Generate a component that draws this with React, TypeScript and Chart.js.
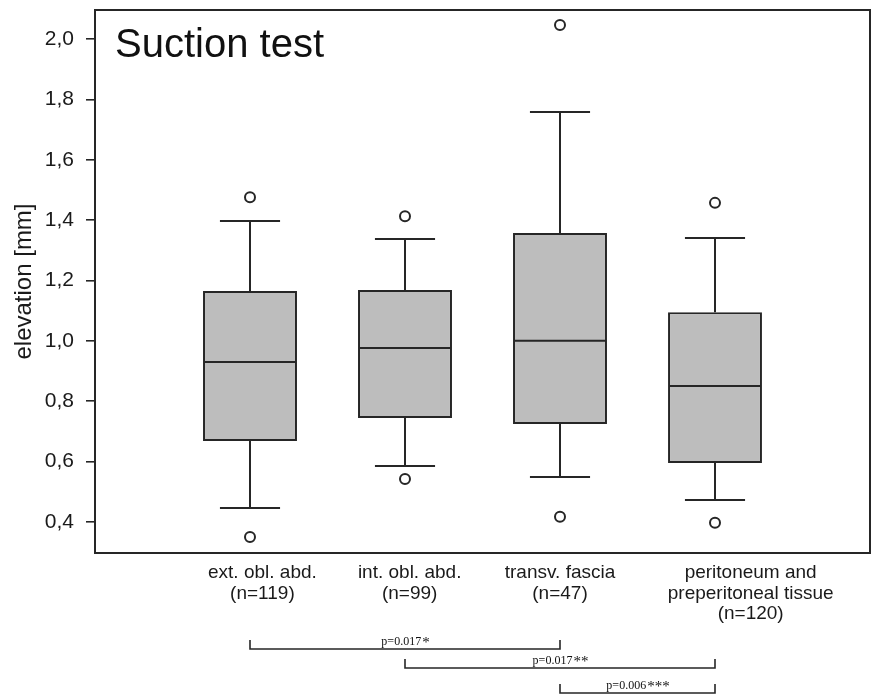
import React, { useEffect, useRef } from 'react';
import { Chart, registerables } from 'chart.js';

Chart.register(...registerables);

// ---- data ----
const categoryLines: string[][] = [
  ['ext. obl. abd.'],
  ['int. obl. abd.'],
  ['transv. fascia'],
  ['peritoneum and', 'preperitoneal tissue'],
];
const sampleSizes = [119, 99, 47, 120];
const boxPositions = [1, 2, 3, 4];
const whiskerLow = [0.446, 0.585, 0.549, 0.473];
const q1 = [0.668, 0.744, 0.724, 0.595];
const medians = [0.93, 0.976, 1.0, 0.85];
const q3 = [1.165, 1.168, 1.357, 1.095];
const whiskerHigh = [1.397, 1.337, 1.758, 1.341];
const outliers: number[][] = [
  [0.35, 1.476],
  [0.542, 1.413],
  [0.417, 2.046],
  [0.397, 1.457],
];
const yTicks = [0.4, 0.6, 0.8, 1.0, 1.2, 1.4, 1.6, 1.8, 2.0];
const labelPositions = [1.08, 2.03, 3.0, 4.23];
const comparisons: number[][] = [
  [0, 2],
  [1, 3],
  [2, 3],
];
const pValues = ['0.017', '0.017', '0.006'];
const pStars = ['*', '**', '***'];

// ---- styles ----
const LINE = '#262626';
const FILL = '#bdbdbd';
const SANS = '"Liberation Sans", Arial, Helvetica, sans-serif';
const SERIF = '"Liberation Serif", "Times New Roman", serif';

const framePlugin = {
  id: 'frame',
  beforeDatasetsDraw(chart: any) {
    const { ctx, chartArea } = chart;
    ctx.save();
    ctx.strokeStyle = LINE;
    ctx.lineWidth = 2;
    ctx.strokeRect(chartArea.left, chartArea.top, chartArea.right - chartArea.left, chartArea.bottom - chartArea.top);
    ctx.restore();
  },
};

const boxPlugin = {
  id: 'boxDetails',
  afterDatasetsDraw(chart: any) {
    const meta = chart.getDatasetMeta(0);
    const y = chart.scales.y;
    const ctx = chart.ctx;
    ctx.save();
    ctx.strokeStyle = LINE;
    ctx.lineWidth = 2;
    meta.data.forEach((bar: any, i: number) => {
      const { x, width } = bar.getProps(['x', 'width'], true);
      const half = width / 2 - 1;
      const cap = width * 0.32;
      const yMed = y.getPixelForValue(medians[i]);
      const yQ1 = y.getPixelForValue(q1[i]);
      const yQ3 = y.getPixelForValue(q3[i]);
      const yLo = y.getPixelForValue(whiskerLow[i]);
      const yHi = y.getPixelForValue(whiskerHigh[i]);
      ctx.beginPath();
      ctx.moveTo(x - half, yMed);
      ctx.lineTo(x + half, yMed);
      ctx.moveTo(x, yQ3);
      ctx.lineTo(x, yHi);
      ctx.moveTo(x - cap, yHi);
      ctx.lineTo(x + cap, yHi);
      ctx.moveTo(x, yQ1);
      ctx.lineTo(x, yLo);
      ctx.moveTo(x - cap, yLo);
      ctx.lineTo(x + cap, yLo);
      ctx.stroke();
    });
    ctx.restore();
  },
};

const annotationPlugin = {
  id: 'annotations',
  afterDraw(chart: any) {
    const { ctx, chartArea } = chart;
    const x = chart.scales.x;
    ctx.save();
    // title inside plot
    ctx.fillStyle = '#111';
    ctx.font = `40px ${SANS}`;
    ctx.textBaseline = 'alphabetic';
    ctx.textAlign = 'left';
    ctx.fillText('Suction test', chartArea.left + 20, chartArea.top + 47);

    // significance brackets
    const lineYs = [649, 668, 693];
    ctx.strokeStyle = LINE;
    ctx.lineWidth = 1.6;
    comparisons.forEach((pair, k) => {
      const xa = x.getPixelForValue(boxPositions[pair[0]]);
      const xb = x.getPixelForValue(boxPositions[pair[1]]);
      const ly = lineYs[k];
      ctx.beginPath();
      ctx.moveTo(xa, ly - 9);
      ctx.lineTo(xa, ly);
      ctx.lineTo(xb, ly);
      ctx.lineTo(xb, ly - 9);
      ctx.stroke();
      const txt = 'p=' + pValues[k];
      ctx.font = `12px ${SERIF}`;
      const w1 = ctx.measureText(txt).width;
      ctx.font = `15px ${SERIF}`;
      const w2 = ctx.measureText(pStars[k]).width;
      const start = (xa + xb) / 2 - (w1 + w2) / 2;
      ctx.font = `12px ${SERIF}`;
      ctx.fillStyle = '#111';
      ctx.fillText(txt, start, ly - 4);
      ctx.font = `15px ${SERIF}`;
      ctx.fillText(pStars[k], start + w1 + 1, ly - 2);
    });
    ctx.restore();
  },
};

const zeroSidePadding = (s: any) => {
  s.paddingLeft = 0;
  s.paddingRight = 0;
};

export default function App() {
  const canvasRef = useRef<HTMLCanvasElement | null>(null);

  useEffect(() => {
    if (!canvasRef.current) return;
    const chart = new Chart(canvasRef.current, {
      type: 'bar',
      data: {
        datasets: [
          {
            type: 'bar',
            data: boxPositions.map((p, i) => ({ x: p, y: [q1[i], q3[i]] })) as any,
            backgroundColor: FILL,
            borderColor: LINE,
            borderWidth: 2,
            borderSkipped: false,
            categoryPercentage: 1,
            barPercentage: 0.606,
            xAxisID: 'x',
            yAxisID: 'y',
          } as any,
          {
            type: 'scatter',
            data: outliers.flatMap((vals, i) => vals.map((v) => ({ x: boxPositions[i], y: v }))),
            pointStyle: 'circle',
            pointRadius: 5,
            backgroundColor: '#ffffff',
            borderColor: LINE,
            borderWidth: 2,
            clip: false,
            xAxisID: 'x',
            yAxisID: 'y',
          } as any,
        ],
      },
      options: {
        responsive: false,
        animation: false,
        layout: { autoPadding: false, padding: { top: 10, right: 2, left: 0, bottom: 0 } },
        plugins: {
          legend: { display: false },
          tooltip: { enabled: false },
          title: { display: false },
        },
        scales: {
          x: {
            type: 'linear',
            min: 0,
            max: 5,
            offset: false,
            display: false,
            ticks: { stepSize: 1 },
            afterFit: zeroSidePadding,
          },
          xl: {
            type: 'linear',
            position: 'bottom',
            min: 0,
            max: 5,
            offset: false,
            afterBuildTicks: (s: any) => {
              s.ticks = labelPositions.map((v) => ({ value: v }));
            },
            afterFit: (s: any) => {
              s.height = 141;
              zeroSidePadding(s);
            },
            grid: { display: false, drawTicks: false },
            border: { display: false },
            ticks: {
              autoSkip: false,
              maxRotation: 0,
              minRotation: 0,
              padding: 9,
              color: '#1a1a1a',
              font: { family: SANS, size: 19, lineHeight: 1.1 },
              callback: (_v: any, i: number) => [...categoryLines[i], `(n=${sampleSizes[i]})`],
            },
          },
          y: {
            type: 'linear',
            min: 0.297,
            max: 2.096,
            afterBuildTicks: (s: any) => {
              s.ticks = yTicks.map((v) => ({ value: v }));
            },
            afterFit: (s: any) => {
              s.width = 95;
              s.paddingTop = 0;
              s.paddingBottom = 0;
            },
            grid: {
              drawOnChartArea: false,
              drawTicks: true,
              tickLength: 9,
              color: LINE,
              tickColor: LINE,
              lineWidth: 1.6,
            },
            border: { display: false },
            ticks: {
              padding: 12,
              color: '#1a1a1a',
              font: { family: SANS, size: 21 },
              callback: (v: any) => Number(v).toFixed(1).replace('.', ','),
            },
            title: {
              display: true,
              text: 'elevation [mm]',
              color: '#1a1a1a',
              font: { family: SANS, size: 24 },
              padding: { top: 10, bottom: 0 },
            },
          },
        },
      } as any,
      plugins: [framePlugin, boxPlugin, annotationPlugin],
    });
    return () => chart.destroy();
  }, []);

  return (
    <div style={{ position: 'fixed', left: 0, top: 0, width: 872, height: 694, background: '#fff' }}>
      <canvas ref={canvasRef} width={872} height={694} style={{ display: 'block' }} />
    </div>
  );
}
